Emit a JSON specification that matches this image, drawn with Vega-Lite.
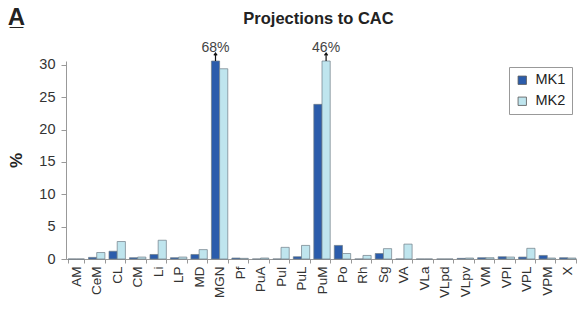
{
  "$schema": "https://vega.github.io/schema/vega-lite/v6.json",
  "width": 512,
  "height": 198,
  "autosize": "none",
  "padding": {"left": 66, "top": 61, "right": 0, "bottom": 53},
  "background": "white",
  "config": {
    "font": "Liberation Sans",
    "view": {"stroke": null},
    "legend": {
      "orient": "none", "legendX": 443, "legendY": 6, "strokeColor": "#999", "padding": 6,
      "symbolType": "square", "symbolSize": 70, "labelFontSize": 14.5, "rowPadding": 6,
      "symbolStrokeColor": "#555", "symbolStrokeWidth": 0.8, "labelColor": "#222", "labelOffset": 6
    }
  },
  "title": {
    "text": "A\u0332", "anchor": "start", "frame": "bounds", "fontSize": 24, "fontWeight": "bold",
    "font": "Liberation Sans", "color": "#222", "offset": 0, "baseline": "alphabetic", "dy": 39
  },
  "data": {
    "values": [
      {"region": "AM", "monkey": "MK1", "pct": 0}, {"region": "AM", "monkey": "MK2", "pct": 0},
      {"region": "CeM", "monkey": "MK1", "pct": 0.25}, {"region": "CeM", "monkey": "MK2", "pct": 1.0},
      {"region": "CL", "monkey": "MK1", "pct": 1.2}, {"region": "CL", "monkey": "MK2", "pct": 2.7},
      {"region": "CM", "monkey": "MK1", "pct": 0.2}, {"region": "CM", "monkey": "MK2", "pct": 0.3},
      {"region": "Li", "monkey": "MK1", "pct": 0.7}, {"region": "Li", "monkey": "MK2", "pct": 2.9},
      {"region": "LP", "monkey": "MK1", "pct": 0.2}, {"region": "LP", "monkey": "MK2", "pct": 0.3},
      {"region": "MD", "monkey": "MK1", "pct": 0.7}, {"region": "MD", "monkey": "MK2", "pct": 1.45},
      {"region": "MGN", "monkey": "MK1", "pct": 68, "note": "68%"}, {"region": "MGN", "monkey": "MK2", "pct": 29.4},
      {"region": "Pf", "monkey": "MK1", "pct": 0.15}, {"region": "Pf", "monkey": "MK2", "pct": 0.1},
      {"region": "PuA", "monkey": "MK1", "pct": 0}, {"region": "PuA", "monkey": "MK2", "pct": 0.15},
      {"region": "PuI", "monkey": "MK1", "pct": 0}, {"region": "PuI", "monkey": "MK2", "pct": 1.8},
      {"region": "PuL", "monkey": "MK1", "pct": 0.35}, {"region": "PuL", "monkey": "MK2", "pct": 2.1},
      {"region": "PuM", "monkey": "MK1", "pct": 23.9}, {"region": "PuM", "monkey": "MK2", "pct": 46, "note": "46%"},
      {"region": "Po", "monkey": "MK1", "pct": 2.1}, {"region": "Po", "monkey": "MK2", "pct": 0.85},
      {"region": "Rh", "monkey": "MK1", "pct": 0}, {"region": "Rh", "monkey": "MK2", "pct": 0.55},
      {"region": "Sg", "monkey": "MK1", "pct": 0.85}, {"region": "Sg", "monkey": "MK2", "pct": 1.6},
      {"region": "VA", "monkey": "MK1", "pct": 0}, {"region": "VA", "monkey": "MK2", "pct": 2.3},
      {"region": "VLa", "monkey": "MK1", "pct": 0}, {"region": "VLa", "monkey": "MK2", "pct": 0},
      {"region": "VLpd", "monkey": "MK1", "pct": 0}, {"region": "VLpd", "monkey": "MK2", "pct": 0},
      {"region": "VLpv", "monkey": "MK1", "pct": 0.1}, {"region": "VLpv", "monkey": "MK2", "pct": 0.15},
      {"region": "VM", "monkey": "MK1", "pct": 0.2}, {"region": "VM", "monkey": "MK2", "pct": 0.2},
      {"region": "VPI", "monkey": "MK1", "pct": 0.35}, {"region": "VPI", "monkey": "MK2", "pct": 0.3},
      {"region": "VPL", "monkey": "MK1", "pct": 0.3}, {"region": "VPL", "monkey": "MK2", "pct": 1.65},
      {"region": "VPM", "monkey": "MK1", "pct": 0.55}, {"region": "VPM", "monkey": "MK2", "pct": 0.15},
      {"region": "X", "monkey": "MK1", "pct": 0.2}, {"region": "X", "monkey": "MK2", "pct": 0.15}
    ]
  },
  "encoding": {
    "x": {
      "field": "region", "type": "nominal", "sort": null,
      "scale": {
        "domain": ["AM","CeM","CL","CM","Li","LP","MD","MGN","Pf","PuA","PuI","PuL","PuM","Po","Rh","Sg","VA","VLa","VLpd","VLpv","VM","VPI","VPL","VPM","X"],
        "paddingInner": 0.2, "paddingOuter": 0.1
      },
      "axis": {
        "orient": "bottom", "title": null, "labelAngle": -90, "labelAlign": "right", "labelBaseline": "middle",
        "labelFontSize": 13.5, "labelColor": "#333", "labelPadding": 3, "tickSize": 4,
        "tickBand": "extent", "domainColor": "#999", "tickColor": "#999", "grid": false
      }
    },
    "xOffset": {"field": "monkey", "type": "nominal", "sort": ["MK1", "MK2"]},
    "y": {
      "field": "pct", "type": "quantitative",
      "scale": {"domain": [0, 30.6], "clamp": true, "nice": false, "zero": true},
      "axis": {
        "title": "%", "titleFontSize": 17, "titleFontWeight": "bold", "titleColor": "#222", "titlePadding": 13,
        "values": [0, 5, 10, 15, 20, 25, 30], "labelFontSize": 14.5, "labelColor": "#333", "labelPadding": 6,
        "tickSize": 5, "domainColor": "#999", "tickColor": "#999", "grid": false
      }
    }
  },
  "layer": [
    {
      "mark": {"type": "bar", "stroke": "#6f7d86", "strokeWidth": 0.7},
      "encoding": {
        "color": {
          "field": "monkey", "type": "nominal",
          "scale": {"domain": ["MK1", "MK2"], "range": ["#2b5cab", "#bfe5ee"]},
          "legend": {"title": null}
        }
      }
    },
    {
      "transform": [{"filter": "datum.note != null"}],
      "mark": {
        "type": "point", "shape": "M0,-1L0,1M-0.4,-0.4L0,-1L0.4,-0.4", "size": 64,
        "stroke": "#111", "strokeWidth": 1.2, "filled": false, "opacity": 1, "yOffset": -4
      },
      "encoding": {
        "x": {"field": "region", "type": "nominal", "sort": null, "axis": null}
      }
    },
    {
      "transform": [{"filter": "datum.note != null"}],
      "mark": {"type": "text", "dy": -9, "baseline": "alphabetic", "fontSize": 14, "color": "#444"},
      "encoding": {
        "text": {"field": "note"},
        "x": {
          "field": "region", "type": "nominal", "sort": null,
          "axis": {
            "orient": "top", "domain": false, "ticks": false, "labels": false, "grid": false,
            "title": "Projections to CAC", "titleFontSize": 16.5, "titleFontWeight": "bold", "titleColor": "#222",
            "titleX": 252, "titleY": -38, "titleBaseline": "alphabetic", "titleAlign": "center"
          }
        }
      }
    }
  ],
  "resolve": {"axis": {"x": "independent"}}
}
